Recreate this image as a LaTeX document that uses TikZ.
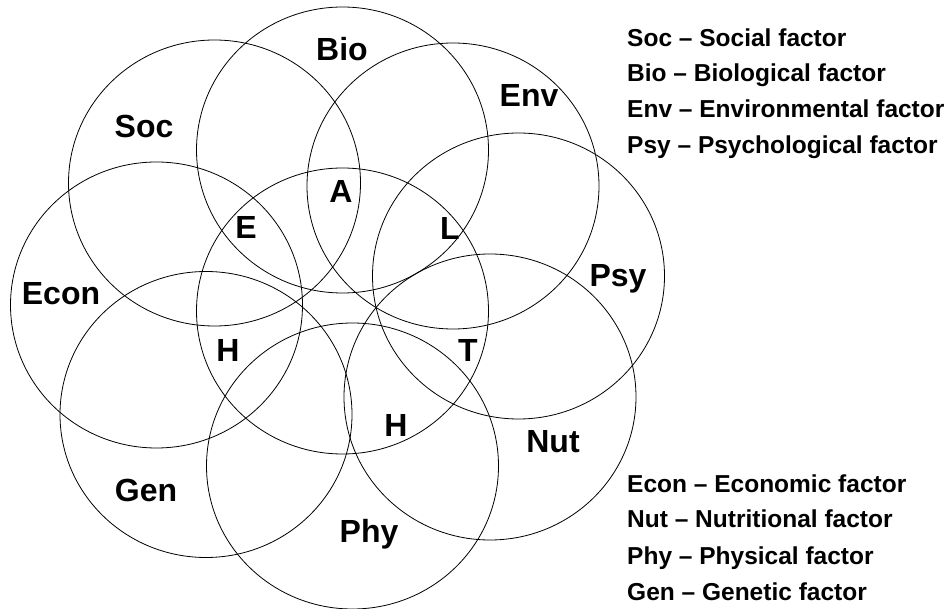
\documentclass[tikz,border=0pt]{standalone}
\usepackage{fontspec}
\setmainfont{Liberation Sans}
\usetikzlibrary{shapes.geometric}
\tikzset{
    RING/.style={shape=ellipse, draw=black, line width=0.8pt,
        minimum width=292pt, minimum height=286pt,
        inner sep=0mm, outer sep=0mm},
    FACTOR/.style={anchor=base, inner sep=0mm,
        font={\fontsize{32}{32}\selectfont\bfseries}},
    LETTER/.style={FACTOR},
    KEY/.style={anchor=base west, inner sep=0mm,
        font={\fontsize{24.5}{24.5}\selectfont\bfseries}}
}
\pgfdeclarelayer{edgelayer}
\pgfdeclarelayer{nodelayer}
\pgfsetlayers{edgelayer,nodelayer,main}

\begin{document}
\begin{tikzpicture}[x=1pt, y=-1pt]
    \useasboundingbox (0,0) rectangle (951,609);
    \begin{pgfonlayer}{edgelayer}
        \node [RING] (0) at (342.5, 311) {};
        \node [RING] (1) at (342.5, 150) {};
        \node [RING] (2) at (453, 186) {};
        \node [RING] (3) at (518.5, 276) {};
        \node [RING] (4) at (490, 397) {};
        \node [RING] (5) at (352.5, 466) {};
        \node [RING] (6) at (206, 414.5) {};
        \node [RING] (7) at (156.5, 305) {};
        \node [RING] (8) at (214.5, 183) {};
    \end{pgfonlayer}
    \begin{pgfonlayer}{nodelayer}
        \node [FACTOR] (9) at (342, 61) {Bio};
        \node [FACTOR] (10) at (529, 107) {Env};
        \node [FACTOR] (11) at (618, 287) {Psy};
        \node [FACTOR] (12) at (553, 453) {Nut};
        \node [FACTOR] (13) at (369, 542) {Phy};
        \node [FACTOR] (14) at (146, 501) {Gen};
        \node [FACTOR] (15) at (61, 305) {Econ};
        \node [FACTOR] (16) at (144, 138) {Soc};
        \node [LETTER] (17) at (341, 203) {A};
        \node [LETTER] (18) at (246, 239) {E};
        \node [LETTER] (19) at (450, 240) {L};
        \node [LETTER] (20) at (228, 362) {H};
        \node [LETTER] (21) at (468, 362) {T};
        \node [LETTER] (22) at (396, 437) {H};
        \node [KEY] (23) at (627, 47) {Soc – Social factor};
        \node [KEY] (24) at (627, 82) {Bio – Biological factor};
        \node [KEY] (25) at (627, 118) {Env – Environmental factor};
        \node [KEY] (26) at (627, 154) {Psy – Psychological factor};
        \node [KEY] (27) at (627, 493) {Econ – Economic factor};
        \node [KEY] (28) at (627, 528) {Nut – Nutritional factor};
        \node [KEY] (29) at (627, 564) {Phy – Physical factor};
        \node [KEY] (30) at (627, 600) {Gen – Genetic factor};
    \end{pgfonlayer}
\end{tikzpicture}
\end{document}
